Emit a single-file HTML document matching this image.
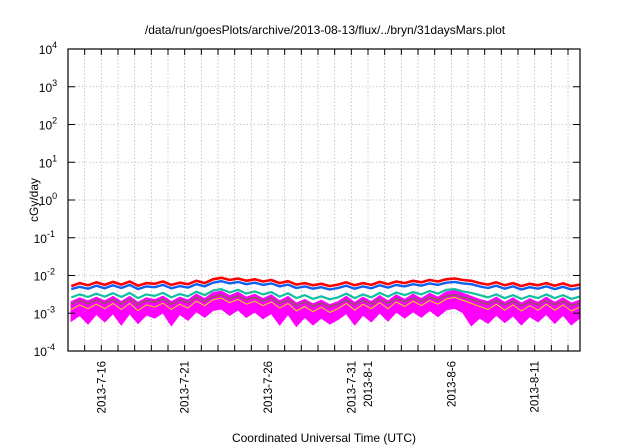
<!DOCTYPE html>
<html><head><meta charset="utf-8"><style>
html,body{margin:0;padding:0;background:#fff;}
svg{display:block;font-family:"Liberation Sans",sans-serif;}
</style></head><body>
<svg id="chart" width="640" height="448" viewBox="0 0 640 448" xmlns="http://www.w3.org/2000/svg">
<text x="325" y="34" font-size="12" text-anchor="middle">/data/run/goesPlots/archive/2013-08-13/flux/../bryn/31daysMars.plot</text>
<text transform="translate(38,200) rotate(-90)" font-size="12" text-anchor="middle">cGy/day</text>
<text x="324" y="442" font-size="12" text-anchor="middle">Coordinated Universal Time (UTC)</text>
<g id="grid"></g>
<g id="series"></g>
<g id="axes"></g>
</svg>
<script>
// log10 values, two samples per day starting 2013-07-14
const red = [-2.28,-2.2,-2.26,-2.18,-2.25,-2.17,-2.24,-2.16,-2.27,-2.2,-2.22,-2.16,-2.25,-2.19,-2.23,-2.14,-2.2,-2.1,-2.06,-2.12,-2.08,-2.14,-2.1,-2.16,-2.12,-2.2,-2.15,-2.24,-2.2,-2.26,-2.22,-2.28,-2.24,-2.18,-2.26,-2.2,-2.25,-2.17,-2.23,-2.16,-2.2,-2.14,-2.18,-2.12,-2.16,-2.1,-2.08,-2.12,-2.14,-2.2,-2.24,-2.18,-2.26,-2.2,-2.28,-2.22,-2.26,-2.2,-2.27,-2.21,-2.28,-2.24];
const blue = [-2.36,-2.3,-2.35,-2.27,-2.34,-2.26,-2.33,-2.25,-2.36,-2.29,-2.31,-2.25,-2.34,-2.28,-2.32,-2.23,-2.29,-2.19,-2.15,-2.21,-2.17,-2.23,-2.19,-2.25,-2.21,-2.29,-2.24,-2.33,-2.29,-2.35,-2.31,-2.37,-2.33,-2.27,-2.35,-2.29,-2.34,-2.26,-2.32,-2.25,-2.29,-2.23,-2.27,-2.21,-2.25,-2.19,-2.17,-2.21,-2.23,-2.29,-2.33,-2.27,-2.35,-2.29,-2.37,-2.31,-2.35,-2.29,-2.36,-2.3,-2.37,-2.33];
const teal = [-2.58,-2.5,-2.57,-2.48,-2.56,-2.47,-2.57,-2.46,-2.6,-2.5,-2.54,-2.46,-2.58,-2.49,-2.55,-2.43,-2.52,-2.4,-2.36,-2.45,-2.38,-2.48,-2.42,-2.5,-2.44,-2.56,-2.47,-2.6,-2.52,-2.62,-2.55,-2.63,-2.58,-2.48,-2.6,-2.5,-2.58,-2.46,-2.56,-2.45,-2.52,-2.44,-2.5,-2.41,-2.48,-2.38,-2.36,-2.42,-2.46,-2.52,-2.58,-2.5,-2.6,-2.52,-2.62,-2.54,-2.6,-2.5,-2.6,-2.52,-2.62,-2.56];
const brown = [-2.76,-2.66,-2.75,-2.64,-2.74,-2.63,-2.76,-2.62,-2.78,-2.66,-2.71,-2.62,-2.76,-2.65,-2.72,-2.58,-2.68,-2.56,-2.52,-2.62,-2.54,-2.65,-2.58,-2.68,-2.6,-2.74,-2.64,-2.8,-2.7,-2.82,-2.73,-2.83,-2.76,-2.64,-2.78,-2.66,-2.76,-2.62,-2.74,-2.61,-2.7,-2.6,-2.68,-2.57,-2.65,-2.54,-2.51,-2.58,-2.63,-2.7,-2.76,-2.66,-2.78,-2.68,-2.8,-2.7,-2.78,-2.66,-2.78,-2.68,-2.8,-2.73];
const magentaHi = [-2.7,-2.6,-2.68,-2.58,-2.68,-2.56,-2.7,-2.56,-2.72,-2.6,-2.65,-2.55,-2.7,-2.58,-2.66,-2.5,-2.62,-2.46,-2.42,-2.54,-2.45,-2.58,-2.5,-2.62,-2.52,-2.68,-2.56,-2.74,-2.64,-2.76,-2.66,-2.78,-2.7,-2.56,-2.72,-2.58,-2.7,-2.54,-2.68,-2.52,-2.64,-2.5,-2.62,-2.48,-2.58,-2.44,-2.4,-2.48,-2.56,-2.64,-2.7,-2.58,-2.72,-2.6,-2.74,-2.62,-2.72,-2.58,-2.72,-2.6,-2.74,-2.66];
const magentaLo = [-3.2,-3.05,-3.28,-3.02,-3.22,-3.0,-3.3,-3.0,-3.26,-3.04,-3.12,-2.98,-3.32,-3.02,-3.18,-2.95,-3.1,-2.92,-2.88,-3.05,-2.9,-3.1,-2.96,-3.14,-3.0,-3.3,-3.02,-3.34,-3.1,-3.3,-3.12,-3.28,-3.16,-3.0,-3.3,-3.04,-3.22,-2.98,-3.2,-2.96,-3.12,-2.95,-3.1,-2.92,-3.08,-2.9,-2.86,-2.98,-3.32,-3.12,-3.26,-3.04,-3.24,-3.06,-3.3,-3.08,-3.22,-3.02,-3.26,-3.04,-3.3,-3.12];
const yellow = [-2.9,-2.78,-2.88,-2.76,-2.88,-2.74,-2.9,-2.74,-2.93,-2.78,-2.84,-2.73,-2.9,-2.76,-2.86,-2.68,-2.8,-2.64,-2.6,-2.72,-2.63,-2.76,-2.68,-2.8,-2.7,-2.86,-2.74,-2.94,-2.82,-2.96,-2.84,-2.98,-2.88,-2.74,-2.92,-2.76,-2.88,-2.72,-2.88,-2.7,-2.82,-2.68,-2.8,-2.66,-2.76,-2.62,-2.58,-2.66,-2.74,-2.82,-2.9,-2.76,-2.92,-2.78,-2.94,-2.8,-2.92,-2.76,-2.92,-2.78,-2.94,-2.84];
const yExponents = [-4,-3,-2,-1,0,1,2,3,4];
const xLabels = ["2013-7-16","2013-7-21","2013-7-26","2013-7-31","2013-8-1","2013-8-6","2013-8-11"];
const xLabelDays = [2,7,12,17,18,23,28];

const L=68,R=580,T=49,B=351, PX_DAY=16.667;
const NS="http://www.w3.org/2000/svg";
function xs(day){return L+day*PX_DAY;}
function ys(lg){return T+(4-lg)*(B-T)/8;}
function mk(tag,attrs,parent){const e=document.createElementNS(NS,tag);for(const k in attrs)e.setAttribute(k,attrs[k]);parent.appendChild(e);return e;}
const grid=document.getElementById('grid'),ser=document.getElementById('series'),axes=document.getElementById('axes');

for(let d=1;xs(d)<R;d++){
  const x=xs(d);
  const g=mk('line',{x1:x,x2:x,y1:T,y2:B,stroke:'#bbb','stroke-width':0.8,'stroke-dasharray':'1.5,2'},grid);
  
  
  const t1=mk('line',{x1:x,x2:x,y1:B,y2:B-6,stroke:'#000','stroke-width':1},axes);
  
  
  const t2=mk('line',{x1:x,x2:x,y1:T,y2:T+6,stroke:'#000','stroke-width':1},axes);
  
  
}
yExponents.forEach(e=>{
  const y=ys(e);
  if(e>-4&&e<4){
    const g=mk('line',{x1:L,x2:R,y1:y,y2:y,stroke:'#bbb','stroke-width':0.8,'stroke-dasharray':'1.5,2'},grid);
    
    
  }
  const t=mk('line',{x1:L,x2:L+7,y1:y,y2:y,stroke:'#000','stroke-width':1},axes);
  
  
  const t2=mk('line',{x1:R,x2:R-7,y1:y,y2:y,stroke:'#000','stroke-width':1},axes);
  
  
  const tx=mk('text',{'font-size':12,'text-anchor':'start'},axes);
  
  
  tx.setAttribute('x',L-10-14-String(e).length*5.2);
  tx.setAttribute('y',y+5);
  tx.appendChild(document.createTextNode('10'));
  const sp=mk('tspan',{dy:-6,'font-size':9},tx);
  sp.textContent=String(e);
});
xLabels.forEach((lab,i)=>{
  const x=xs(xLabelDays[i]);
  const t=mk('text',{transform:`translate(${x+4},${B+10}) rotate(-90)`,'font-size':11.5,'text-anchor':'end'},axes);
  
  
  t.textContent=lab;
});
const fr=mk('rect',{x:L,y:T,width:R-L,height:B-T,fill:'none',stroke:'#000','stroke-width':1.2},axes);



function pts(arr){return arr.map((v,i)=>`${xs(i*0.5+0.2).toFixed(1)},${ys(v).toFixed(1)}`);}
const band=mk('polygon',{points:pts(magentaHi).concat(pts(magentaLo).reverse()).join(' '),fill:'#ff00ff',stroke:'#ff00ff','stroke-width':1.5},ser);


const lines=[[yellow,'#e8e000',1,'yellow-series'],[brown,'#a04878',2,'brown-series'],[teal,'#10c0a0',2.2,'teal-series'],[red,'#ff0000',2.6,'red-series'],[blue,'#1060f0',2.4,'blue-series']];
lines.forEach(([arr,c,w,n])=>{
  const p=mk('polyline',{points:pts(arr).join(' '),fill:'none',stroke:c,'stroke-width':w,'stroke-linejoin':'round'},ser);
  
  
});
</script>
</body></html>
